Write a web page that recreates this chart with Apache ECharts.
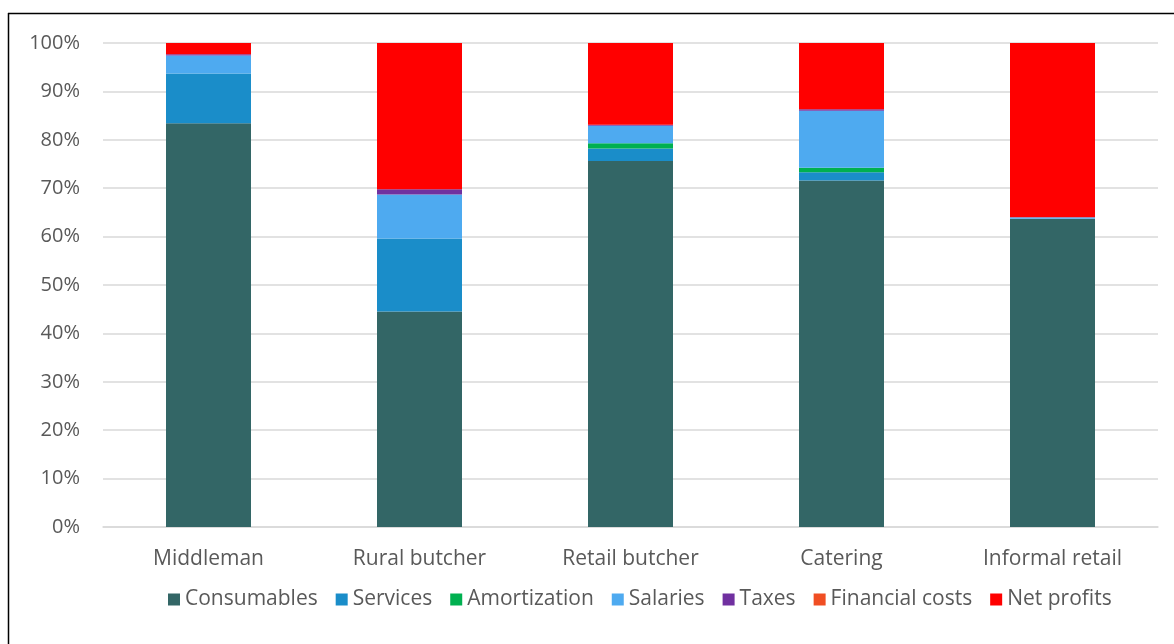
<!DOCTYPE html>
<html>
<head>
<meta charset="utf-8">
<script src="https://cdn.jsdelivr.net/npm/echarts@6/dist/echarts.min.js"></script>
<style>
  html, body { margin: 0; padding: 0; background: #fff; }
  #chart { width: 1174px; height: 644px; }
</style>
</head>
<body>
<div id="chart"></div>
<script>
// Cost structure by actor, share of selling price (%)
const categories = ['Middleman', 'Rural butcher', 'Retail butcher', 'Catering', 'Informal retail'];

const consumables    = [83.4, 44.5, 75.6, 71.6, 63.7];
const services       = [10.3, 15.1, 2.6, 1.7, 0];
const amortization   = [0, 0, 1.1, 0.9, 0];
const salaries       = [3.7, 9.1, 3.6, 11.8, 0.3];
const taxes          = [0.3, 1.1, 0.2, 0.3, 0];
const financialCosts = [0, 0, 0, 0, 0];
const netProfits     = [2.3, 30.2, 16.9, 13.7, 36.0];

const yTicks = [0, 10, 20, 30, 40, 50, 60, 70, 80, 90, 100];

const seriesDefs = [
  { name: 'Consumables', data: consumables, color: '#336666' },
  { name: 'Services', data: services, color: '#1a8dc9' },
  { name: 'Amortization', data: amortization, color: '#00b050' },
  { name: 'Salaries', data: salaries, color: '#4eaaf0' },
  { name: 'Taxes', data: taxes, color: '#7030a0' },
  { name: 'Financial costs', data: financialCosts, color: '#f04e23' },
  { name: 'Net profits', data: netProfits, color: '#ff0000' }
];

const font = '"Open Sans", Lato, sans-serif';

const chart = echarts.init(document.getElementById('chart'), null, { renderer: 'canvas' });
chart.setOption({
  animation: false,
  backgroundColor: '#fff',
  grid: { left: 103, right: 16, top: 43, bottom: 117, containLabel: false },
  legend: {
    data: seriesDefs.map(s => s.name),
    top: 584,
    left: 163,
    itemWidth: 12,
    itemHeight: 12,
    itemGap: 18,
    icon: 'rect',
    textStyle: { fontFamily: font, fontSize: 21, color: '#595959', padding: [0, 0, 0, 0] }
  },
  xAxis: {
    type: 'category',
    data: categories,
    axisLine: { show: true, lineStyle: { color: '#d9d9d9', width: 1.5 } },
    axisTick: { show: false },
    axisLabel: { fontFamily: font, fontSize: 21, color: '#595959', margin: 22 }
  },
  yAxis: {
    type: 'value',
    min: yTicks[0],
    max: yTicks[yTicks.length - 1],
    interval: yTicks[1] - yTicks[0],
    axisLine: { show: false },
    axisTick: { show: false },
    splitLine: { lineStyle: { color: '#d9d9d9', width: 1.5 } },
    axisLabel: { fontFamily: font, fontSize: 20, color: '#595959', margin: 23, formatter: '{value}%' }
  },
  series: seriesDefs.map(s => ({
    name: s.name,
    type: 'bar',
    stack: 'total',
    data: s.data,
    barWidth: 85,
    itemStyle: { color: s.color, borderWidth: 0 },
    emphasis: { disabled: true }
  })),
  graphic: [
    { type: 'line', shape: { x1: 8, y1: 13.5, x2: 1174, y2: 13.5 }, style: { stroke: '#000', lineWidth: 1.5 } },
    { type: 'line', shape: { x1: 8.5, y1: 13, x2: 8.5, y2: 644 }, style: { stroke: '#000', lineWidth: 1.5 } }
  ]
});
</script>
</body>
</html>
